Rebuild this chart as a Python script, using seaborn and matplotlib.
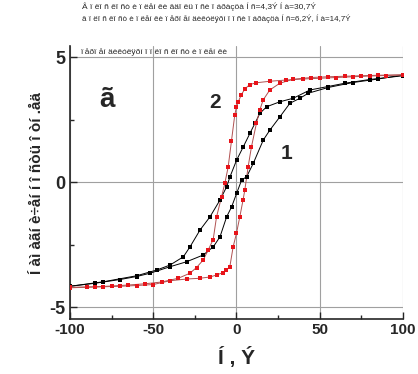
import numpy as np
import pandas as pd
import matplotlib
matplotlib.use("Agg")
import matplotlib.pyplot as plt
from matplotlib.ticker import MultipleLocator
import seaborn as sns

# ── Data (H in Oe, magnetisation in rel. units) ─────────────────────────────
# loop 1 (black), descending field branch
h1_down = [100, 80, 65, 55, 44.1, 34.1, 26.1, 18.1, 14.1, 11.1, 8.1, 4.1, 0.1, -3.9,
           -5.9, -9.9, -15.9, -21.9, -27.9, -31.9, -39.9, -47.9, -60, -80, -100]
m1_down = [4.25, 4.10, 3.95, 3.82, 3.68, 3.35, 3.21, 3.01, 2.75, 2.35, 1.95, 1.41, 0.88, 0.21,
           -0.19, -0.72, -1.39, -1.92, -2.59, -2.99, -3.32, -3.52, -3.75, -3.99, -4.17]
# loop 1 (black), ascending field branch
h1_up = [-100, -85, -70, -60, -52, -40, -30, -20, -13.9, -9.9, -5.9, -2.9, 0.1, 3.1,
         6.1, 10.1, 16.1, 20.1, 26.1, 32.1, 38.1, 43.1, 55, 70, 85, 100]
m1_up = [-4.17, -4.05, -3.90, -3.78, -3.65, -3.39, -3.19, -2.92, -2.59, -2.19, -1.39, -0.99, -0.45, 0.08,
         0.21, 0.75, 1.68, 2.08, 2.61, 3.15, 3.35, 3.55, 3.78, 3.98, 4.12, 4.28]

# loop 2 (red), descending field branch
h2_down = [100, 90, 80, 70, 60, 50, 40, 30, 20, 12, 8, 5, 3, 1, 0, -1, -3, -5, -7, -9,
           -12, -14, -17, -20, -24, -28, -35, -45, -55, -65, -75, -85, -100]
m2_down = [4.28, 4.26, 4.24, 4.21, 4.18, 4.15, 4.12, 4.08, 4.03, 3.97, 3.90, 3.72, 3.50, 3.20, 3.00, 2.70, 1.65, 0.60, -0.05, -0.60,
           -1.40, -2.30, -2.72, -3.12, -3.42, -3.65, -3.85, -4.00, -4.07, -4.12, -4.16, -4.19, -4.21]
# loop 2 (red), ascending field branch
h2_up = [-100, -90, -80, -70, -60, -50, -40, -30, -22, -16, -12, -8, -6, -4, -2, 0, 2, 4, 5,
         7, 9, 12, 14, 16, 20, 26, 34, 45, 55, 65, 75, 85, 100]
m2_up = [-4.23, -4.21, -4.19, -4.17, -4.14, -4.10, -3.95, -3.88, -3.85, -3.80, -3.72, -3.62, -3.52, -3.39, -2.59, -2.05, -1.39, -0.70, -0.32,
         0.61, 1.41, 2.35, 2.88, 3.28, 3.68, 3.95, 4.11, 4.18, 4.21, 4.23, 4.25, 4.27, 4.29]

# texts, as they appear in the reference (wide glyphs leave gaps)
HEAD1 = "Â ï ëî ñ êî ñò è ï ëåí êè âäî ëü î ñè î áðàçöà Í ñ=4,3Ý Í à=30,7Ý"
HEAD2 = "â ï ëî ñ êî ñò è ï ëåí êè ï åðï åí äèêóëÿðí î î ñè î áðàçöà Í ñ=6,2Ý, Í à=14,7Ý"
INNER = "ï åðï åí äèêóëÿðí î ï ëî ñ êî ñò è ï ëåí êè"
YLAB = "Í àì àãí è÷åí í î ñòü î òí .åä"
XLAB = "Í , Ý"
PANEL = "ã"

ARIAL = ["Liberation Sans", "DejaVu Sans"]

sns.set_style("ticks")
plt.rcParams["font.family"] = ["Liberation Sans Narrow", "Liberation Sans", "DejaVu Sans"]
plt.rcParams["axes.unicode_minus"] = False

fig = plt.figure(figsize=(4.18, 3.74), dpi=100)
ax = fig.add_axes([0.1675, 0.147, 0.7965, 0.73])

branches = [
    (h1_down, m1_down, "black", "black"),
    (h1_up, m1_up, "black", "black"),
    (h2_down, m2_down, "#b05050", "#e8141a"),
    (h2_up, m2_up, "#b05050", "#e8141a"),
]
for h, m, lc, mc in branches:
    df = pd.DataFrame({"H": h, "M": m})
    sns.lineplot(data=df, x="H", y="M", sort=False, color=lc, lw=0.7, ax=ax, zorder=3)
    sns.scatterplot(data=df, x="H", y="M", marker="s", s=7, color=mc, edgecolor=mc,
                    linewidth=0, ax=ax, zorder=4)

ax.set_xlim(-100, 100)
ax.set_ylim(-5.48, 5.44)
ax.xaxis.set_major_locator(MultipleLocator(50))
ax.xaxis.set_minor_locator(MultipleLocator(25))
ax.yaxis.set_major_locator(MultipleLocator(5))
ax.yaxis.set_minor_locator(MultipleLocator(2.5))
ax.grid(True, which="major", color="#a0a0a0", lw=0.8, zorder=0)
ax.tick_params(which="both", direction="in")
ax.tick_params(which="major", length=5, width=1)
ax.tick_params(which="minor", length=3, width=1)
ax.tick_params(axis="x", labelsize=11, pad=3)
ax.tick_params(axis="y", labelsize=13, pad=3)
for lab in ax.get_xticklabels() + ax.get_yticklabels():
    lab.set_fontweight("bold")
    lab.set_family(ARIAL)
sns.despine(ax=ax)
ax.spines["left"].set_linewidth(1.2)
ax.spines["bottom"].set_linewidth(1.2)

ax.set_xlabel(XLAB, fontsize=15, fontweight="bold", labelpad=7)
ax.set_ylabel(YLAB, fontsize=11, fontweight="bold", labelpad=4)

ax.text(-78, 3.3, PANEL, fontsize=20, fontweight="bold", ha="center", va="center", family=ARIAL)
ax.text(-13, 3.2, "2", fontsize=15, fontweight="bold", ha="center", va="center", family=ARIAL)
ax.text(30, 1.15, "1", fontsize=15, fontweight="bold", ha="center", va="center", family=ARIAL)
ax.text(-94, 5.05, INNER, fontsize=6, ha="left", va="bottom")

fig.text(82 / 418, 1 - 7 / 374, HEAD1, fontsize=6, ha="left", va="center")
fig.text(82 / 418, 1 - 19 / 374, HEAD2, fontsize=5.8, ha="left", va="center")

fig.savefig("out.png", dpi=100)
